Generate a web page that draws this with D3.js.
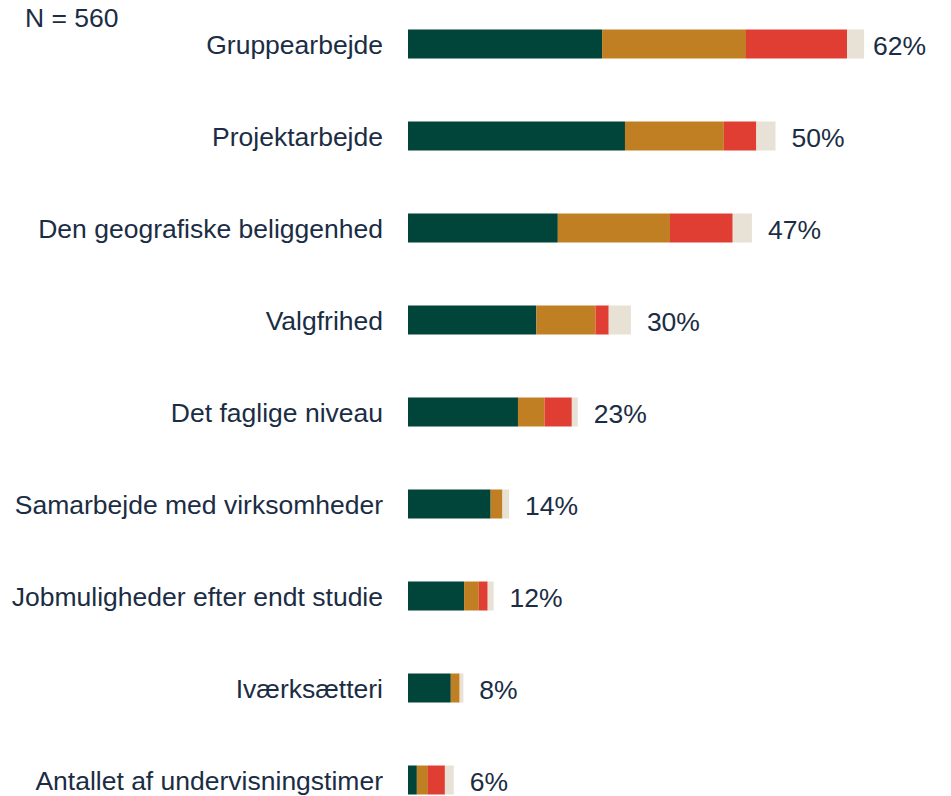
<!DOCTYPE html>
<html>
<head>
<meta charset="utf-8">
<script src="https://cdn.jsdelivr.net/npm/d3@7"></script>
<style>
  body { margin: 0; background: #fff; }
  text { font-family: "Liberation Sans", Arial, sans-serif; fill: #1b2d44; }
</style>
</head>
<body>
<svg></svg>
<script>
var w = 951, h = 796;

// data (percent of N = 560)
var categories = ["Gruppearbejde", "Projektarbejde", "Den geografiske beliggenhed", "Valgfrihed",
  "Det faglige niveau", "Samarbejde med virksomheder", "Jobmuligheder efter endt studie",
  "Iværksætteri", "Antallet af undervisningstimer"];
var greenVals  = [26.3, 29.4, 20.3, 17.4, 14.9, 11.2, 7.6, 5.8, 1.2];
var orangeVals = [19.5, 13.4, 15.2, 8.0, 3.6, 1.6, 2.0, 1.2, 1.5];
var redVals    = [13.7, 4.4, 8.5, 1.8, 3.7, 0, 1.2, 0, 2.3];
var beigeVals  = [2.3, 2.6, 2.6, 3.0, 0.8, 0.9, 0.8, 0.5, 1.2];
var totals     = [62, 50, 47, 30, 23, 14, 12, 8, 6];
var nLabel = "N = 560";

var keys = ["green", "orange", "red", "beige"];
var color = {green: "#01453a", orange: "#c17f24", red: "#e03e33", beige: "#e8e1d6"};

var rows = categories.map(function(c, i){
  return {cat: c, green: greenVals[i], orange: orangeVals[i], red: redVals[i], beige: beigeVals[i], total: totals[i]};
});

var svg = d3.select("svg").attr("width", w).attr("height", h);

var x = d3.scaleLinear().domain([0, 100]).range([408, 408 + 738]);
var y = d3.scalePoint().domain(categories).range([44, 780]);
var barH = 29;

var stack = d3.stack().keys(keys)(rows);

svg.append("g").selectAll("g")
  .data(stack)
  .join("g")
  .attr("fill", d => color[d.key])
  .selectAll("rect")
  .data(d => d)
  .join("rect")
  .attr("x", d => x(d[0]))
  .attr("y", d => y(d.data.cat) - barH/2)
  .attr("width", d => Math.max(0, x(d[1]) - x(d[0])))
  .attr("height", barH);

svg.append("g").selectAll("text")
  .data(rows)
  .join("text")
  .attr("x", 383)
  .attr("y", d => y(d.cat))
  .attr("dy", "0.38em")
  .attr("text-anchor", "end")
  .style("font-size", "26.5px")
  .text(d => d.cat);

var stackEnd = d => x(d.green + d.orange + d.red + d.beige);

svg.append("g").selectAll("text")
  .data(rows)
  .join("text")
  .attr("x", d => Math.min(stackEnd(d) + 16, w - 78))
  .attr("y", d => y(d.cat))
  .attr("dy", "0.4em")
  .style("font-size", "26.5px")
  .text(d => d.total + "%");

svg.append("text")
  .attr("x", 25)
  .attr("y", 27)
  .style("font-size", "26.5px")
  .text(nLabel);
</script>
</body>
</html>
